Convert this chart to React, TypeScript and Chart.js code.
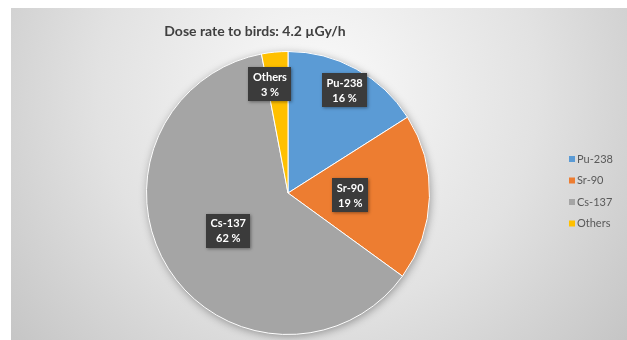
import React, { useEffect, useRef } from "react";
import { Chart, registerables } from "chart.js";

Chart.register(...registerables);

const categories = ["Pu-238", "Sr-90", "Cs-137", "Others"];
const values = [16, 19, 62, 3];
const valueLabels = ["16 %", "19 %", "62 %", "3 %"];
const colors = ["#5B9BD5", "#ED7D31", "#A5A5A5", "#FFC000"];
const titleText = "Dose rate to birds: 4.2 \u00B5Gy/h";

// label placement (fraction of radius, angle shift in degrees)
const labelRadius = [0.83, 0.44, 0.5, 0.78];
const labelShift = [0, 0, 0, -4];

const FONT = "Lato, 'Open Sans', 'DejaVu Sans', sans-serif";

const decorPlugin = {
  id: "decor",
  beforeDraw(chart: any) {
    const ctx = chart.ctx;
    const W = chart.width;
    const H = chart.height;
    ctx.save();
    ctx.fillStyle = "#ffffff";
    ctx.fillRect(0, 0, W, H);
    const g = ctx.createRadialGradient(318, 90, 10, 318, 90, 430);
    g.addColorStop(0, "#f9f9f9");
    g.addColorStop(0.5, "#e2e2e2");
    g.addColorStop(1, "#c0c0c0");
    ctx.fillStyle = g;
    ctx.fillRect(11, 8, W - 11, H - 8);
    // title
    ctx.fillStyle = "#404040";
    ctx.font = `bold 14px ${FONT}`;
    ctx.textAlign = "center";
    ctx.textBaseline = "middle";
    ctx.fillText(titleText, 255, 31);
    ctx.restore();
  },
  beforeDatasetsDraw(chart: any) {
    const meta = chart.getDatasetMeta(0);
    const a = meta.data[0];
    if (!a) return;
    const ctx = chart.ctx;
    ctx.save();
    ctx.shadowColor = "rgba(0,0,0,0.35)";
    ctx.shadowBlur = 8;
    ctx.shadowOffsetX = 1;
    ctx.shadowOffsetY = 2;
    ctx.fillStyle = "#a5a5a5";
    ctx.beginPath();
    ctx.arc(a.x, a.y, a.outerRadius, 0, Math.PI * 2);
    ctx.fill();
    ctx.restore();
  },
  afterDatasetsDraw(chart: any) {
    const ctx = chart.ctx;
    const meta = chart.getDatasetMeta(0);
    ctx.save();
    meta.data.forEach((arc: any, i: number) => {
      const mid = (arc.startAngle + arc.endAngle) / 2 + (labelShift[i] * Math.PI) / 180;
      const r = arc.outerRadius * labelRadius[i];
      const cx = arc.x + Math.cos(mid) * r;
      const cy = arc.y + Math.sin(mid) * r;
      ctx.font = `bold 11px ${FONT}`;
      const w = Math.max(ctx.measureText(categories[i]).width, ctx.measureText(valueLabels[i]).width) + 9;
      const h = 34;
      ctx.save();
      ctx.shadowColor = "rgba(0,0,0,0.4)";
      ctx.shadowBlur = 3;
      ctx.shadowOffsetX = 1;
      ctx.shadowOffsetY = 1;
      ctx.fillStyle = "#3b3b3b";
      ctx.fillRect(Math.round(cx - w / 2), Math.round(cy - h / 2), Math.round(w), h);
      ctx.restore();
      ctx.fillStyle = "#ffffff";
      ctx.textAlign = "center";
      ctx.textBaseline = "middle";
      ctx.fillText(categories[i], cx, cy - 7);
      ctx.fillText(valueLabels[i], cx, cy + 8);
    });
    // legend
    ctx.font = `11px ${FONT}`;
    ctx.textAlign = "left";
    ctx.textBaseline = "middle";
    categories.forEach((c, i) => {
      const y = 159 + i * 21.5;
      ctx.fillStyle = colors[i];
      ctx.fillRect(569, y - 3, 6, 6);
      ctx.fillStyle = "#595959";
      ctx.fillText(c, 577, y);
    });
    ctx.restore();
  },
};

export default function App() {
  const ref = useRef<HTMLCanvasElement | null>(null);
  useEffect(() => {
    if (!ref.current) return;
    const chart = new Chart(ref.current, {
      type: "pie",
      data: {
        labels: categories,
        datasets: [
          {
            data: values,
            backgroundColor: colors,
            borderColor: "#ffffff",
            borderWidth: 1,
          },
        ],
      },
      options: {
        animation: false,
        responsive: true,
        maintainAspectRatio: false,
        layout: { padding: { left: 146, right: 197, top: 51, bottom: 5 } },
        plugins: {
          legend: { display: false },
          tooltip: { enabled: false },
          title: { display: false },
        },
      },
      plugins: [decorPlugin],
    });
    return () => chart.destroy();
  }, []);
  return (
    <div style={{ position: "fixed", left: 0, top: 0, width: 627, height: 340 }}>
      <canvas ref={ref} />
    </div>
  );
}
